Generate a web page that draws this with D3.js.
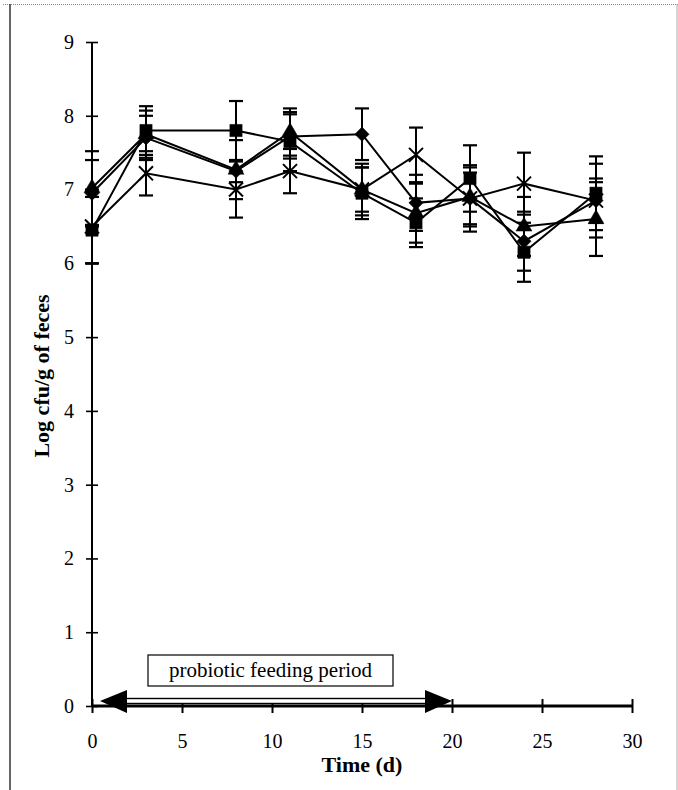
<!DOCTYPE html>
<html>
<head>
<meta charset="utf-8">
<script src="https://cdn.jsdelivr.net/npm/d3@7"></script>
<style>
  body { margin: 0; background: #fff; }
  svg text { font-family: "Liberation Serif", "DejaVu Serif", serif; }
</style>
</head>
<body>
<svg id="chart" width="678" height="790"></svg>
<script>
// sampling days
var days = [0, 3, 8, 11, 15, 18, 21, 24, 28];

// series means (log cfu/g)
var diamondVals  = [6.95, 7.70, 7.25, 7.72, 7.75, 6.82, 6.88, 6.30, 6.85];
var squareVals   = [6.45, 7.80, 7.80, 7.65, 6.95, 6.55, 7.15, 6.15, 6.95];
var triangleVals = [7.02, 7.75, 7.27, 7.78, 7.00, 6.68, 6.90, 6.50, 6.60];
var crossVals    = [6.50, 7.22, 7.00, 7.25, 7.00, 7.47, 6.88, 7.08, 6.85];

// error bar half-widths
var diamondErr  = [0.45, 0.30, 0.15, 0.30, 0.35, 0.38, 0.45, 0.40, 0.50];
var squareErr   = [0.45, 0.33, 0.40, 0.40, 0.35, 0.33, 0.45, 0.40, 0.50];
var triangleErr = [0.50, 0.32, 0.40, 0.32, 0.30, 0.40, 0.40, 0.40, 0.50];
var crossErr    = [0.50, 0.30, 0.38, 0.30, 0.35, 0.37, 0.35, 0.42, 0.30];

var xTicks = [0, 5, 10, 15, 20, 25, 30];
var yTicks = [0, 1, 2, 3, 4, 5, 6, 7, 8, 9];
var feedingPeriod = [0, 20];

var svg = d3.select("#chart");

// page frame
svg.append("line").attr("x1", 3).attr("x2", 678).attr("y1", 4.5).attr("y2", 4.5)
  .attr("stroke", "#888").attr("stroke-width", 1).attr("stroke-dasharray", "1,1");
svg.append("line").attr("x1", 10).attr("x2", 10).attr("y1", 4).attr("y2", 790)
  .attr("stroke", "#333").attr("stroke-width", 1.5);
svg.append("line").attr("x1", 677).attr("x2", 677).attr("y1", 4).attr("y2", 790)
  .attr("stroke", "#aaa").attr("stroke-width", 1);

var x = d3.scaleLinear().domain([0, 30]).range([92, 632]);
var y = d3.scaleLinear().domain([0, 9]).range([706, 42]);

// y axis
var gy = svg.append("g").attr("transform", "translate(" + x(0) + ",0)")
  .call(d3.axisLeft(y).tickValues(yTicks).tickSize(6).tickPadding(12).tickFormat(d3.format("d")));
gy.select(".domain").attr("stroke", "#000").attr("stroke-width", 2).attr("d", "M0," + y(9) + "V" + y(0));
gy.selectAll(".tick line").attr("x1", 6).attr("x2", -6).attr("stroke-width", 1.6);
gy.selectAll(".tick text").attr("font-size", 20).attr("fill", "#000");

// x axis
var gx = svg.append("g").attr("transform", "translate(0," + y(0) + ")")
  .call(d3.axisBottom(x).tickValues(xTicks).tickSize(6).tickPadding(22).tickFormat(d3.format("d")));
gx.select(".domain").attr("stroke", "#000").attr("stroke-width", 3).attr("d", "M" + x(0) + ",0H" + x(30));
gx.selectAll(".tick line").attr("y1", -7).attr("y2", 7).attr("stroke-width", 2);
gx.selectAll(".tick text").attr("font-size", 20).attr("fill", "#000");

// axis titles
svg.append("text").attr("x", x(15)).attr("y", 772).attr("text-anchor", "middle")
  .attr("font-size", 22).attr("font-weight", "bold").text("Time (d)");
svg.append("text").attr("transform", "translate(49," + 376 + ") rotate(-90)")
  .attr("text-anchor", "middle").attr("font-size", 22).attr("font-weight", "bold")
  .text("Log cfu/g of feces");

// feeding period arrow
var ax0 = x(feedingPeriod[0]) + 8, ax1 = x(feedingPeriod[1]);
var ay = 701;
svg.append("rect").attr("x", ax0 + 20).attr("y", ay - 2.5).attr("width", ax1 - ax0 - 40).attr("height", 5)
  .attr("fill", "#fff").attr("stroke", "#000").attr("stroke-width", 1.4);
svg.append("path").attr("d", "M" + ax0 + "," + ay + "L" + (ax0 + 27) + "," + (ay - 11) + "L" + (ax0 + 27) + "," + (ay + 12) + "Z")
  .attr("fill", "#000");
svg.append("path").attr("d", "M" + ax1 + "," + ay + "L" + (ax1 - 27) + "," + (ay - 11) + "L" + (ax1 - 27) + "," + (ay + 12) + "Z")
  .attr("fill", "#000");
svg.append("rect").attr("x", 148).attr("y", 655).attr("width", 245).attr("height", 31)
  .attr("fill", "#fff").attr("stroke", "#000").attr("stroke-width", 1.2);
svg.append("text").attr("x", 270.5).attr("y", 677).attr("text-anchor", "middle")
  .attr("font-size", 21).text("probiotic feeding period");

// series
var series = [
  { name: "diamond",  vals: diamondVals,  err: diamondErr,  sym: d3.symbolDiamond2, size: 130 },
  { name: "square",   vals: squareVals,   err: squareErr,   sym: d3.symbolSquare,   size: 150 },
  { name: "triangle", vals: triangleVals, err: triangleErr, sym: d3.symbolTriangle, size: 110 },
  { name: "cross",    vals: crossVals,    err: crossErr,    sym: d3.symbolX,        size: 130 }
];

var line = d3.line().x(function(d) { return x(d.t); }).y(function(d) { return y(d.v); });

series.forEach(function(s) {
  var pts = days.map(function(t, i) { return { t: t, v: s.vals[i], e: s.err[i] }; });
  var g = svg.append("g").attr("class", s.name);
  // error bars
  g.selectAll("line.bar").data(pts).enter().append("line")
    .attr("x1", function(d) { return x(d.t); }).attr("x2", function(d) { return x(d.t); })
    .attr("y1", function(d) { return y(d.v - d.e); }).attr("y2", function(d) { return y(d.v + d.e); })
    .attr("stroke", "#000").attr("stroke-width", 2);
  [-1, 1].forEach(function(sign) {
    g.selectAll(null).data(pts).enter().append("line")
      .attr("x1", function(d) { return x(d.t) - 7; }).attr("x2", function(d) { return x(d.t) + 7; })
      .attr("y1", function(d) { return y(d.v + sign * d.e); }).attr("y2", function(d) { return y(d.v + sign * d.e); })
      .attr("stroke", "#000").attr("stroke-width", 2.2);
  });
  g.append("path").datum(pts).attr("d", line)
    .attr("fill", "none").attr("stroke", "#000").attr("stroke-width", 2);
  var isX = s.name === "cross";
  g.selectAll("path.pt").data(pts).enter().append("path")
    .attr("transform", function(d) { return "translate(" + x(d.t) + "," + y(d.v) + ")"; })
    .attr("d", d3.symbol().type(s.sym).size(s.size))
    .attr("fill", isX ? "none" : "#000")
    .attr("stroke", "#000").attr("stroke-width", isX ? 2 : 0.5);
});
</script>
</body>
</html>
